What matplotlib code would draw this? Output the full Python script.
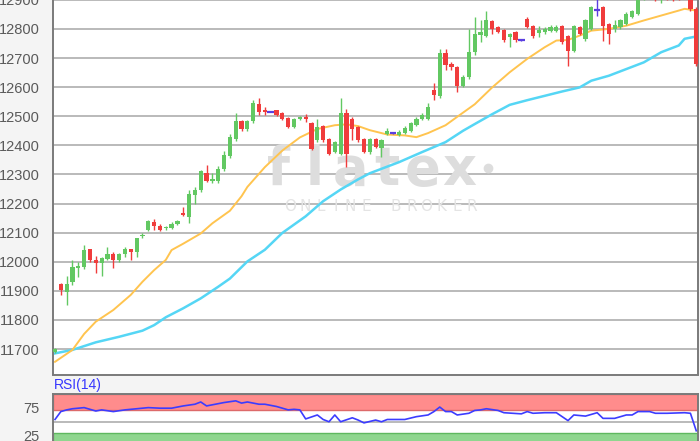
import matplotlib
matplotlib.use("Agg")
import matplotlib.pyplot as plt
import numpy as np

plt.rcParams['font.family'] = ['Liberation Sans', 'DejaVu Sans']

# ---------------- data ----------------
opens = [11688, 11922, 11897, 11930, 11980, 11982, 12042, 12007, 11994, 12011,
         12026, 12005, 12026, 12042, 12034, 12087, 12108, 12137, 12123, 12115,
         12117, 12128, 12169, 12153, 12228, 12245, 12305, 12276, 12276, 12318,
         12362, 12422, 12484, 12455, 12482, 12543, 12523, 12515, 12520, 12512,
         12495, 12463, 12490, 12498, 12477, 12417, 12465, 12423, 12377, 12371,
         12512, 12492, 12463, 12423, 12377, 12423, 12390, 12440, 12442, 12436,
         12442, 12450, 12470, 12490, 12490, 12590, 12570, 12717, 12680, 12668,
         12605, 12633, 12720, 12780, 12777, 12826, 12806, 12797, 12772, 12789,
         12762, 12834, 12811, 12785, 12789, 12792, 12794, 12811, 12777, 12725,
         12806, 12766, 12800, 12866, 12875, 12817, 12800, 12808, 12817, 12840,
         12852, 12910, 12960, 12930, 12905, 12935, 12925, 12930, 12945, 12915,
         12870]
highs = [11702, 11927, 11950, 12005, 12000, 12057, 12045, 12019, 12017, 12051,
         12034, 12030, 12049, 12045, 12083, 12097, 12142, 12148, 12128, 12122,
         12135, 12145, 12188, 12245, 12257, 12316, 12331, 12305, 12330, 12380,
         12440, 12511, 12488, 12488, 12555, 12561, 12530, 12517, 12523, 12515,
         12498, 12495, 12500, 12507, 12480, 12492, 12470, 12426, 12415, 12561,
         12526, 12497, 12467, 12426, 12426, 12426, 12420, 12460, 12444, 12452,
         12465, 12480, 12498, 12510, 12545, 12613, 12730, 12730, 12685, 12672,
         12640, 12800, 12840, 12829, 12863, 12830, 12810, 12800, 12786, 12792,
         12764, 12840, 12815, 12811, 12806, 12815, 12812, 12815, 12780, 12815,
         12810, 12835, 12880, 12910, 12880, 12820, 12830, 12835, 12858, 12866,
         12930, 12970, 12975, 12940, 12950, 12945, 12935, 12940, 12955, 12925,
         12875]
lows = [11686, 11887, 11850, 11920, 11948, 11975, 11999, 11962, 11950, 12005,
        11980, 12000, 12015, 12005, 12015, 12083, 12105, 12110, 12105, 12110,
        12113, 12125, 12158, 12133, 12200, 12240, 12273, 12270, 12270, 12312,
        12355, 12415, 12450, 12450, 12478, 12503, 12503, 12513, 12500, 12488,
        12460, 12460, 12488, 12480, 12385, 12412, 12410, 12365, 12372, 12365,
        12325, 12417, 12412, 12372, 12371, 12390, 12360, 12436, 12440, 12432,
        12438, 12446, 12466, 12487, 12487, 12555, 12562, 12660, 12660, 12582,
        12600, 12628, 12712, 12754, 12772, 12783, 12786, 12755, 12737, 12754,
        12760, 12803, 12770, 12771, 12783, 12789, 12790, 12748, 12674, 12720,
        12780, 12760, 12795, 12846, 12760, 12748, 12790, 12800, 12812, 12836,
        12848, 12900, 12910, 12895, 12888, 12898, 12896, 12898, 12908, 12860,
        12674]
closes = [11700, 11902, 11925, 11982, 11986, 12039, 12005, 11994, 12013, 12026,
          12007, 12026, 12042, 12034, 12080, 12092, 12139, 12122, 12108, 12118,
          12131, 12140, 12160, 12234, 12245, 12311, 12277, 12283, 12320, 12365,
          12428, 12485, 12455, 12484, 12544, 12515, 12515, 12515, 12503, 12492,
          12463, 12492, 12498, 12489, 12388, 12463, 12417, 12371, 12411, 12512,
          12371, 12457, 12417, 12377, 12423, 12394, 12417, 12450, 12442, 12447,
          12459, 12475, 12492, 12503, 12532, 12573, 12717, 12677, 12668, 12605,
          12633, 12720, 12783, 12788, 12829, 12800, 12789, 12762, 12783, 12762,
          12762, 12806, 12777, 12797, 12800, 12806, 12808, 12754, 12725, 12811,
          12783, 12829, 12875, 12866, 12811, 12783, 12815, 12829, 12852, 12863,
          12905, 12950, 12925, 12900, 12930, 12902, 12900, 12902, 12915, 12870,
          12680]

ma_fast_idx = [0, 3, 5, 7, 10, 13, 15, 17, 19, 20, 22, 25, 27, 30, 32, 33, 36, 39,
               42, 45, 48, 50, 52, 54, 57, 60, 62, 64, 67, 69, 72, 75, 78, 81, 84,
               86, 88, 90, 92, 95, 98, 101, 104, 107, 108, 110]
ma_fast = [11656, 11697, 11752, 11794, 11834, 11886, 11931, 11971, 12006, 12040,
           12062, 12097, 12132, 12175, 12225, 12257, 12325, 12382, 12427, 12456,
           12469, 12472, 12466, 12452, 12437, 12434, 12428, 12442, 12469, 12498,
           12541, 12599, 12651, 12697, 12737, 12760, 12762, 12777, 12794, 12800,
           12811, 12829, 12846, 12863, 12869, 12863]

ma_slow_idx = [0, 3, 7, 11, 15, 17, 19, 22, 25, 28, 30, 33, 36, 39, 43, 46, 49, 52,
               54, 59, 63, 67, 70, 72, 75, 78, 81, 84, 87, 90, 92, 95, 98, 101, 104,
               107, 108, 110]
ma_slow = [11685, 11697, 11723, 11742, 11763, 11782, 11809, 11840, 11874, 11914,
           11942, 12001, 12041, 12099, 12156, 12208, 12248, 12283, 12304, 12342,
           12377, 12411, 12450, 12473, 12507, 12539, 12555, 12570, 12585, 12599,
           12622, 12639, 12662, 12685, 12720, 12743, 12766, 12774]

rsi_idx = [0, 1, 2, 3, 5, 7, 8, 10, 12, 13, 16, 18, 20, 22, 24, 25, 26, 27, 29, 31,
           32, 33, 35, 36, 38, 40, 41, 42, 43, 45, 46, 47, 48, 49, 51, 52, 53, 55, 56, 57,
           60, 62, 64, 65, 66, 67, 68, 69, 71, 72, 73, 74, 76, 77, 80, 81, 82, 84, 86, 87,
           88, 89, 91, 93, 94, 96, 98, 99, 100, 102, 103, 105, 108, 109, 110]
rsi_vals = [54, 68, 71, 73, 75, 69, 71, 68, 71, 72, 75, 74, 74, 78, 81, 85, 78, 80, 84, 87,
            83, 85, 81, 81, 77, 71, 72, 71, 55, 62, 54, 50, 62, 50, 57, 53, 48, 53, 50, 54,
            54, 59, 62, 68, 76, 68, 68, 62, 65, 70, 71, 73, 70, 66, 64, 68, 65, 66, 66, 59,
            52, 62, 60, 66, 56, 56, 62, 62, 68, 68, 65, 65, 66, 65, 34]

price_ticks = [11700, 11800, 11900, 12000, 12100, 12200, 12300, 12400, 12500,
               12600, 12700, 12800, 12900]
rsi_ticks = [25, 75]
rsi_label = "RSI(14)"
wm_main = "flatex"
wm_sub = "ONLINE BROKER"

# ---------------- figure ----------------
W, H = 700, 441
fig = plt.figure(figsize=(7, 4.41), dpi=100, facecolor='#f4f4f4')


def px_rect(left, top, right, bottom):
    return [left / W, 1 - bottom / H, (right - left) / W, (bottom - top) / H]


GREEN = '#62c862'
RED = '#f03c3c'
PURPLE = '#5a3ee0'
FRAME = '#7a7a7a'
GRID = '#b4b4b4'

ax = fig.add_axes(px_rect(52.5, -29.3, 698, 374.5))
ax.set_facecolor('white')
ax.set_xlim(-0.43, 110.3)
ax.set_ylim(11612.4, 13000)
ax.set_yticks(price_ticks)
ax.set_xticks([])
ax.grid(axis='y', color=GRID, lw=1.3)
ax.set_axisbelow(True)
ax.tick_params(axis='y', length=0, pad=9, labelsize=10.5, labelcolor='#5a5a5a')
for s in ax.spines.values():
    s.set_color(FRAME)
    s.set_linewidth(1.4)

# watermark (behind candles)
letter_x = np.linspace(278, 459, len(wm_main))
for ch, xp in zip(wm_main, letter_x):
    ax.text(xp / W, 1 - 185 / H, ch, transform=fig.transFigure, ha='center',
            va='baseline', fontsize=38, fontweight='bold', color='#dddddd',
            family='DejaVu Sans', zorder=0.6, clip_on=False)
ax.plot([488 / W], [1 - 168 / H], 'o', ms=7, color='#dddddd', mec='none',
        transform=fig.transFigure, zorder=0.6, clip_on=False)
sub_x = np.linspace(290, 472, len(wm_sub))
for ch, xp in zip(wm_sub, sub_x):
    ax.text(xp / W, 1 - 211 / H, ch, transform=fig.transFigure, ha='center',
            va='baseline', fontsize=11, color='#e4e4e4', family='DejaVu Sans',
            zorder=0.6, clip_on=False)

# moving averages
ax.plot(ma_slow_idx, ma_slow, color='#55d6f5', lw=1.8, zorder=2)
ax.plot(ma_fast_idx, ma_fast, color='#ffc44f', lw=1.4, zorder=2)

# candles
bw = 0.72
for i, (o, h, l, c) in enumerate(zip(opens, highs, lows, closes)):
    if c > o:
        col = GREEN
    elif c < o:
        col = RED
    else:
        col = PURPLE
    ax.vlines(i, l, h, color=col, lw=1.0, zorder=3)
    if c == o:
        ax.hlines(o, i - 0.55, i + 0.55, color=col, lw=1.6, zorder=3)
    else:
        ax.bar(i, c - o, bottom=o, width=bw, color=col, edgecolor='none', zorder=3)

# ---------------- RSI panel ----------------
ax2 = fig.add_axes(px_rect(52.5, 393.5, 698, 450))
ax2.set_facecolor('white')
ax2.set_xlim(-0.43, 110.3)
ax2.set_ylim(0, 100)
ax2.axhspan(70, 100, facecolor='#ff8c8c', edgecolor='#dd6a6a', lw=1.0, zorder=1)
ax2.axhspan(0, 30, facecolor='#8fd68f', edgecolor='#5fb85f', lw=1.0, zorder=1)
ax2.axhline(50, color=GRID, lw=1.3, zorder=1)
ax2.plot(rsi_idx, rsi_vals, color='#3c3cff', lw=1.2, zorder=3)
ax2.set_yticks(rsi_ticks)
ax2.set_xticks([])
ax2.tick_params(axis='y', length=0, pad=9, labelsize=10.5, labelcolor='#5a5a5a')
for s in ax2.spines.values():
    s.set_color(FRAME)
    s.set_linewidth(1.4)

fig.text(54 / W, 1 - 385 / H, rsi_label, color='#3535ff', fontsize=10,
         ha='left', va='center')

fig.savefig('out.png', dpi=100, facecolor=fig.get_facecolor())
